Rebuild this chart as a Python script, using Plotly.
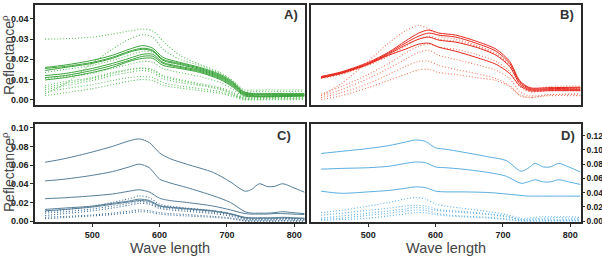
import plotly.graph_objects as go

# ---------------- data ----------------
WL_AB = [430, 460, 500, 530, 555, 575, 590, 605, 630, 660, 690, 710, 725, 740, 770, 815]
WL_CD = [430, 460, 500, 530, 555, 570, 585, 600, 615, 640, 680, 705, 727, 737, 748, 760, 770, 783, 798, 815]

A_solid = [
    [0.016,0.0172,0.0195,0.022,0.025,0.0268,0.0255,0.021,0.0185,0.016,0.0125,0.0085,0.004,0.003,0.003,0.003],
    [0.0155,0.0165,0.0185,0.021,0.024,0.0255,0.0245,0.020,0.018,0.0155,0.012,0.008,0.0035,0.0028,0.0028,0.0028],
    [0.0145,0.016,0.018,0.0205,0.0235,0.025,0.024,0.0195,0.0175,0.015,0.0115,0.0075,0.003,0.0025,0.0025,0.0025],
    [0.012,0.013,0.0155,0.018,0.0205,0.0225,0.0225,0.0185,0.0165,0.0145,0.011,0.007,0.003,0.002,0.002,0.0022],
    [0.011,0.012,0.0145,0.017,0.0195,0.0215,0.0215,0.018,0.016,0.014,0.0105,0.0065,0.0025,0.0018,0.0018,0.002],
    [0.0098,0.011,0.0135,0.016,0.019,0.0205,0.0205,0.017,0.0155,0.0135,0.010,0.006,0.002,0.0015,0.0015,0.0018],
]
A_dot = [
    [0.030,0.0302,0.031,0.0325,0.034,0.035,0.034,0.029,0.022,0.0175,0.0135,0.009,0.005,0.0048,0.0048,0.0048],
    [0.003,0.008,0.018,0.025,0.030,0.0322,0.031,0.025,0.020,0.017,0.013,0.009,0.004,0.004,0.004,0.0042],
    [0.007,0.009,0.011,0.0135,0.015,0.0158,0.015,0.012,0.010,0.008,0.006,0.0035,0.001,0.001,0.0012,0.0012],
    [0.006,0.008,0.0105,0.013,0.0148,0.0155,0.0145,0.0115,0.0095,0.0075,0.0055,0.003,0.0008,0.0008,0.001,0.001],
    [0.005,0.007,0.0095,0.012,0.0135,0.0145,0.0135,0.0105,0.0085,0.007,0.005,0.0025,0.0005,0.0005,0.0008,0.0008],
    [0.004,0.0055,0.0075,0.0095,0.011,0.0115,0.011,0.0085,0.0068,0.0055,0.004,0.002,0.0003,0.0,0.0003,0.0005],
    [0.002,0.0035,0.0055,0.0075,0.0092,0.010,0.0095,0.0072,0.0058,0.0045,0.0032,0.0015,0.0,0.0,0.0,0.0],
    [0.0135,0.015,0.017,0.0195,0.022,0.024,0.0235,0.0195,0.0172,0.0148,0.0115,0.0075,0.0035,0.0032,0.0032,0.0032],
    [0.0105,0.0115,0.013,0.0155,0.0175,0.019,0.0185,0.0155,0.0135,0.0115,0.0085,0.005,0.0015,0.0015,0.0018,0.002],
]

B_solid = [
    [0.0115,0.0138,0.0185,0.0235,0.029,0.033,0.0345,0.033,0.032,0.029,0.025,0.019,0.0095,0.006,0.006,0.0062],
    [0.0113,0.0135,0.018,0.023,0.028,0.0315,0.033,0.032,0.031,0.028,0.024,0.018,0.009,0.0055,0.0055,0.0058],
    [0.011,0.0132,0.0178,0.0225,0.027,0.030,0.031,0.0295,0.0285,0.026,0.022,0.0165,0.008,0.005,0.005,0.005],
    [0.0108,0.013,0.0175,0.022,0.025,0.0275,0.028,0.026,0.024,0.021,0.0175,0.013,0.007,0.0045,0.0045,0.0045],
]
B_dot = [
    [0.002,0.008,0.019,0.028,0.034,0.0368,0.035,0.0315,0.030,0.027,0.023,0.017,0.008,0.004,0.0055,0.0055],
    [0.0028,0.0065,0.0125,0.018,0.023,0.0265,0.0275,0.026,0.025,0.0225,0.019,0.014,0.0065,0.004,0.0045,0.0045],
    [0.002,0.005,0.0105,0.0155,0.020,0.0235,0.0245,0.022,0.020,0.0175,0.0145,0.0105,0.004,0.002,0.0025,0.003],
    [0.001,0.0035,0.008,0.0125,0.0165,0.019,0.019,0.017,0.015,0.013,0.0105,0.007,0.0025,0.0012,0.002,0.002],
    [0.0,0.002,0.006,0.0095,0.0125,0.0148,0.015,0.0135,0.0125,0.011,0.0095,0.0065,0.002,0.001,0.0025,0.0025],
    [0.0105,0.0125,0.017,0.0215,0.0265,0.030,0.0315,0.030,0.029,0.0265,0.0225,0.017,0.0085,0.0055,0.0065,0.0068],
]

C_solid = [
    [0.063,0.067,0.074,0.080,0.086,0.088,0.084,0.073,0.067,0.061,0.052,0.042,0.032,0.034,0.040,0.037,0.037,0.040,0.036,0.031],
    [0.043,0.045,0.049,0.053,0.058,0.061,0.057,0.045,0.041,0.036,0.027,0.020,0.010,0.0085,0.0085,0.0085,0.009,0.010,0.009,0.008],
    [0.024,0.025,0.027,0.029,0.032,0.0335,0.031,0.0245,0.022,0.020,0.016,0.012,0.008,0.0075,0.0075,0.0075,0.008,0.008,0.0075,0.007],
    [0.0125,0.014,0.016,0.019,0.0215,0.0235,0.022,0.0165,0.015,0.0135,0.011,0.008,0.004,0.0035,0.0035,0.0035,0.0035,0.004,0.0035,0.003],
    [0.011,0.0125,0.015,0.018,0.0205,0.022,0.021,0.016,0.0145,0.013,0.0105,0.0075,0.0035,0.003,0.003,0.003,0.003,0.0035,0.003,0.0028],
]
C_dot = [
    [0.010,0.012,0.016,0.020,0.024,0.027,0.025,0.018,0.016,0.014,0.011,0.008,0.003,0.0025,0.0025,0.0025,0.0025,0.003,0.0025,0.0025],
    [0.0085,0.010,0.013,0.016,0.019,0.021,0.0195,0.015,0.0135,0.012,0.0095,0.007,0.0025,0.002,0.002,0.002,0.002,0.0025,0.002,0.002],
    [0.004,0.005,0.0065,0.0085,0.0105,0.012,0.011,0.009,0.008,0.007,0.005,0.0035,0.0005,0.0,0.0,0.0,0.0,0.0005,0.0,0.0],
    [0.0025,0.0038,0.0055,0.007,0.0088,0.010,0.0095,0.0075,0.0065,0.0055,0.004,0.0025,0.0,0.0,0.0,0.0,0.0,0.0,0.0,0.0],
    [0.006,0.008,0.011,0.014,0.017,0.019,0.018,0.0135,0.012,0.0105,0.008,0.0055,0.0015,0.001,0.001,0.001,0.001,0.0015,0.001,0.001],
]

D_solid = [
    [0.095,0.098,0.102,0.106,0.111,0.114,0.112,0.103,0.101,0.097,0.090,0.085,0.070,0.074,0.081,0.076,0.076,0.081,0.076,0.069],
    [0.073,0.074,0.075,0.077,0.081,0.083,0.082,0.076,0.075,0.073,0.068,0.063,0.053,0.055,0.058,0.055,0.055,0.058,0.055,0.0515],
    [0.042,0.039,0.041,0.043,0.046,0.048,0.047,0.042,0.041,0.041,0.040,0.038,0.036,0.035,0.035,0.035,0.035,0.035,0.035,0.035],
]
D_dot = [
    [0.012,0.015,0.021,0.026,0.031,0.033,0.031,0.024,0.021,0.018,0.013,0.009,0.004,0.004,0.005,0.006,0.006,0.006,0.006,0.005],
    [0.008,0.011,0.015,0.018,0.021,0.022,0.021,0.017,0.015,0.0135,0.010,0.007,0.002,0.002,0.003,0.004,0.004,0.005,0.004,0.004],
    [0.004,0.007,0.011,0.014,0.017,0.019,0.018,0.015,0.0135,0.012,0.009,0.006,0.002,0.001,0.002,0.002,0.002,0.002,0.002,0.002],
    [0.002,0.004,0.008,0.011,0.014,0.0155,0.015,0.011,0.009,0.007,0.005,0.003,0.0005,0.0,0.0,0.0005,0.0005,0.0005,0.0005,0.0005],
    [0.001,0.002,0.004,0.007,0.010,0.012,0.0115,0.009,0.0075,0.006,0.004,0.002,0.0,0.0,0.0,0.0,0.0,0.0,0.0,0.0],
]

X_TICKS = [500, 600, 700, 800]
A_YTICKS = [0.00, 0.01, 0.02, 0.03, 0.04]
C_YTICKS = [0.00, 0.02, 0.04, 0.06, 0.08, 0.10]
D_YTICKS = [0.00, 0.02, 0.04, 0.06, 0.08, 0.10, 0.12]
PANEL_LABELS = ["A)", "B)", "C)", "D)"]

# ---------------- figure ----------------
W, H = 602, 258
fig = go.Figure()
DOT = "1px,2px"

def add(wl, solid, dot, axis, csolid, cdot):
    xa, ya = axis
    for ys in dot:
        fig.add_trace(go.Scatter(x=wl, y=ys, mode="lines", xaxis=xa, yaxis=ya,
                                 line=dict(color=cdot, width=1.1, dash=DOT, shape="spline", smoothing=0.8),
                                 showlegend=False, hoverinfo="skip"))
    for ys in solid:
        fig.add_trace(go.Scatter(x=wl, y=ys, mode="lines", xaxis=xa, yaxis=ya,
                                 line=dict(color=csolid, width=1, shape="spline", smoothing=0.8),
                                 showlegend=False, hoverinfo="skip"))

add(WL_AB, A_solid, A_dot, ("x", "y"), "#3ba53b", "#5cc05c")
add(WL_AB, B_solid, B_dot, ("x2", "y2"), "#e8261c", "#f37a5e")
add(WL_CD, C_solid, C_dot, ("x3", "y3"), "#567d98", "#3a6a94")
add(WL_CD, D_solid, D_dot, ("x4", "y4"), "#5aaee0", "#5fb2e6")

def px(x):
    return x / W

def py(y):
    return 1 - y / H

frame = dict(showline=True, mirror=True, linecolor="#2a2a2a", linewidth=1.5,
             showgrid=False, zeroline=False, automargin=False)
tickfont = dict(family="Arial", size=9, color="#222")
xr = [415, 816]
ytitle_font = dict(family="Arial", size=14, color="#444")
xtitle_font = dict(family="Arial", size=14.5, color="#444")

def bold(vals, fmt):
    return [f"<b>{fmt.format(v)}</b>" for v in vals]

layout = dict(
    width=W, height=H, margin=dict(l=0, r=0, t=0, b=0),
    paper_bgcolor="white", plot_bgcolor="white",
    xaxis=dict(domain=[px(35), px(305)], range=xr, showticklabels=False, ticks="", anchor="y", **frame),
    yaxis=dict(domain=[py(105), py(5)], range=[-0.0026, 0.0469], anchor="x",
               tickvals=A_YTICKS, ticktext=bold(A_YTICKS, "{:.2f}"), ticks="outside", ticklen=3,
               tickcolor="#2a2a2a", tickfont=tickfont, **frame),
    xaxis2=dict(domain=[px(311), px(581)], range=xr, showticklabels=False, ticks="", anchor="y2", **frame),
    yaxis2=dict(domain=[py(105), py(5)], range=[-0.0026, 0.0469], anchor="x2",
                showticklabels=False, ticks="", **frame),
    xaxis3=dict(domain=[px(35), px(305)], range=xr, anchor="y3",
                tickvals=X_TICKS, ticktext=bold(X_TICKS, "{}"), ticks="outside", ticklen=3,
                tickcolor="#2a2a2a", tickfont=tickfont, **frame),
    yaxis3=dict(domain=[py(222), py(124)], range=[-0.001, 0.104], anchor="x3",
                tickvals=C_YTICKS, ticktext=bold(C_YTICKS, "{:.2f}"), ticks="outside", ticklen=3,
                tickcolor="#2a2a2a", tickfont=tickfont, **frame),
    xaxis4=dict(domain=[px(311), px(581)], range=xr, anchor="y4",
                tickvals=X_TICKS, ticktext=bold(X_TICKS, "{}"), ticks="outside", ticklen=3,
                tickcolor="#2a2a2a", tickfont=tickfont, **frame),
    yaxis4=dict(domain=[py(222), py(124)], range=[-0.0014, 0.1365], anchor="x4", side="right",
                tickvals=D_YTICKS, ticktext=bold(D_YTICKS, "{:.2f}"), ticks="outside", ticklen=2,
                tickcolor="#2a2a2a", tickfont=dict(family="Arial", size=8.5, color="#222"), **frame),
)
fig.update_layout(**layout)

# axis titles as paper annotations at the reference positions
for (tx, ty) in [(8, 55), (8, 172)]:
    fig.add_annotation(x=px(tx), y=py(ty), xref="paper", yref="paper", textangle=-90,
                       xanchor="center", yanchor="middle", showarrow=False,
                       text="Reflectance<sup>ρ</sup>", font=ytitle_font)
for (tx, ty) in [(170, 248), (446, 248)]:
    fig.add_annotation(x=px(tx), y=py(ty), xref="paper", yref="paper",
                       xanchor="center", yanchor="middle", showarrow=False,
                       text="Wave length", font=xtitle_font)

label_pos = [(300, 15), (576, 15), (293, 135), (577, 135)]
for lab, (lx, ly) in zip(PANEL_LABELS, label_pos):
    fig.add_annotation(x=px(lx), y=py(ly), xref="paper", yref="paper", xanchor="right", yanchor="middle",
                       text=f"<b>{lab}</b>", showarrow=False,
                       font=dict(family="Arial", size=13, color="#333"))

fig.write_html("out.html", config={"displayModeBar": False},
               post_script="document.body.style.margin='0';document.body.style.overflow='hidden';")
